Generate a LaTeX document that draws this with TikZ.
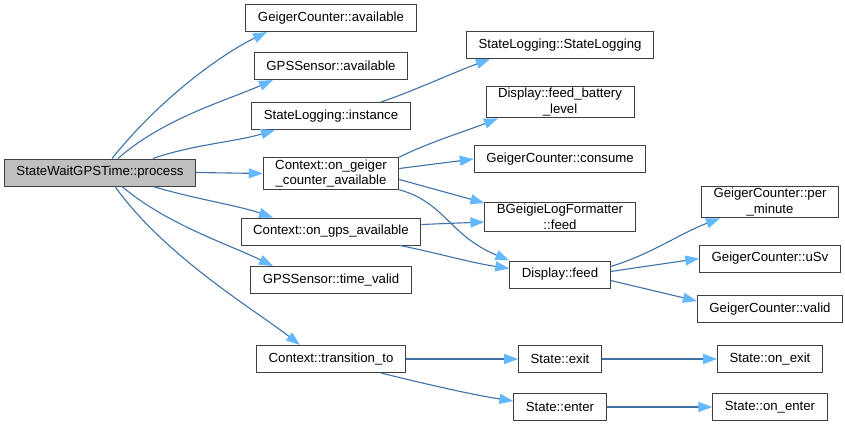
\documentclass[tikz,border=0pt]{standalone}
\usepackage{fontspec}
\setmainfont{Liberation Sans}
\usepackage{xcolor}
\usepackage{tikz}
\usetikzlibrary{positioning}
\usetikzlibrary{arrows.meta}
\definecolor{edgeline}{HTML}{3F72AA}
\definecolor{edgehead}{HTML}{63B8FF}
\definecolor{boxline}{HTML}{404040}

\begin{document}
\begin{tikzpicture}[x=1pt,y=1pt]
    \tikzset{Func/.style={rectangle, draw=boxline, line width=1pt, fill=white, align=center, inner xsep=12pt, inner ysep=2pt, minimum height=27pt, font=\fontsize{13.2}{15.5}\selectfont}};
    \tikzset{Edge/.style={draw=edgeline, line width=1.1pt, -{Triangle[length=14pt,width=10pt,color=edgehead]}}};
    \useasboundingbox (0,0) rectangle (845,-425);
    % caller
    \node[Func, fill=black!25] (p) at (100,-172.5) {StateWaitGPSTime::process};
    % first rank
    \node[Func] (gca) at (331,-18) {GeigerCounter::available};
    \node[Func] (gpsa) at (331,-66) {GPSSensor::available};
    \node[Func] (sli) at (331,-116) {StateLogging::instance};
    \node[Func] (ogc) at (331,-173.5) {Context::on\_geiger\\\_counter\_available};
    \node[Func] (ogps) at (331,-231.5) {Context::on\_gps\_available};
    \node[Func] (tv) at (331,-280) {GPSSensor::time\_valid};
    \node[Func] (tr) at (331,-359) {Context::transition\_to};
    % second rank
    \node[Func] (sls) at (560,-45) {StateLogging::StateLogging};
    \node[Func] (dfb) at (560,-102) {Display::feed\_battery\\\_level};
    \node[Func] (gcc) at (560,-159) {GeigerCounter::consume};
    \node[Func] (blf) at (560,-217) {BGeigieLogFormatter\\::feed};
    \node[Func] (df) at (560,-274.5) {Display::feed};
    \node[Func] (sx) at (560,-359) {State::exit};
    \node[Func] (se) at (560,-407) {State::enter};
    % third rank
    \node[Func] (gcpm) at (770,-202) {GeigerCounter::per\\\_minute};
    \node[Func] (gcu) at (770,-258.5) {GeigerCounter::uSv};
    \node[Func] (gcv) at (770,-309) {GeigerCounter::valid};
    \node[Func] (sox) at (770,-359) {State::on\_exit};
    \node[Func] (soe) at (770,-407) {State::on\_enter};
    % calls
    \draw[Edge] ([xshift=12pt]p.north) .. controls +(50,62) and +(-45,-22) .. ([xshift=-64pt]gca.south);
    \draw[Edge] ([xshift=18pt]p.north) .. controls +(45,40) and +(-45,-20) .. ([xshift=-58pt]gpsa.south);
    \draw[Edge] ([xshift=53pt]p.north) .. controls +(40,14) and +(-40,-12) .. ([xshift=-56pt]sli.south);
    \draw[Edge] (p.east) -- (ogc.west);
    \draw[Edge] ([xshift=53pt]p.south) .. controls +(40,-12) and +(-35,12) .. ([xshift=-58pt]ogps.north);
    \draw[Edge] ([xshift=22pt]p.south) .. controls +(45,-38) and +(-45,22) .. ([xshift=-58pt]tv.north);
    \draw[Edge] ([xshift=15pt]p.south) .. controls +(50,-70) and +(-45,35) .. ([xshift=-31pt]tr.north);
    \draw[Edge] ([xshift=50pt]sli.north) .. controls +(30,10) and +(-40,-15) .. ([xshift=-70pt]sls.south);
    \draw[Edge] (ogc.north east) .. controls +(30,15) and +(-30,-12) .. ([xshift=-62pt]dfb.south);
    \draw[Edge] ([yshift=5pt]ogc.east) -- (gcc.west);
    \draw[Edge] ([yshift=-6pt]ogc.east) -- ([yshift=14pt]blf.west);
    \draw[Edge] (ogc.south east) .. controls +(45,-12) and +(-60,25) .. (df.north west);
    \draw[Edge] ([yshift=7pt]ogps.east) -- ([yshift=-5pt]blf.west);
    \draw[Edge] ([xshift=69pt]ogps.south) .. controls +(40,-8) and +(-40,6) .. ([yshift=6pt]df.west);
    \draw[Edge] ([yshift=8pt]df.east) .. controls +(40,12) and +(-40,-15) .. ([xshift=-50pt]gcpm.south);
    \draw[Edge] ([yshift=3pt]df.east) -- (gcu.west);
    \draw[Edge] ([yshift=-6pt]df.east) -- ([yshift=8pt]gcv.west);
    \draw[Edge] (tr.east) -- (sx.west);
    \draw[Edge] ([xshift=50pt]tr.south) .. controls +(40,-10) and +(-40,6) .. ([yshift=6pt]se.west);
    \draw[Edge] (sx.east) -- (sox.west);
    \draw[Edge] (se.east) -- (soe.west);
  \end{tikzpicture}
\end{document}
